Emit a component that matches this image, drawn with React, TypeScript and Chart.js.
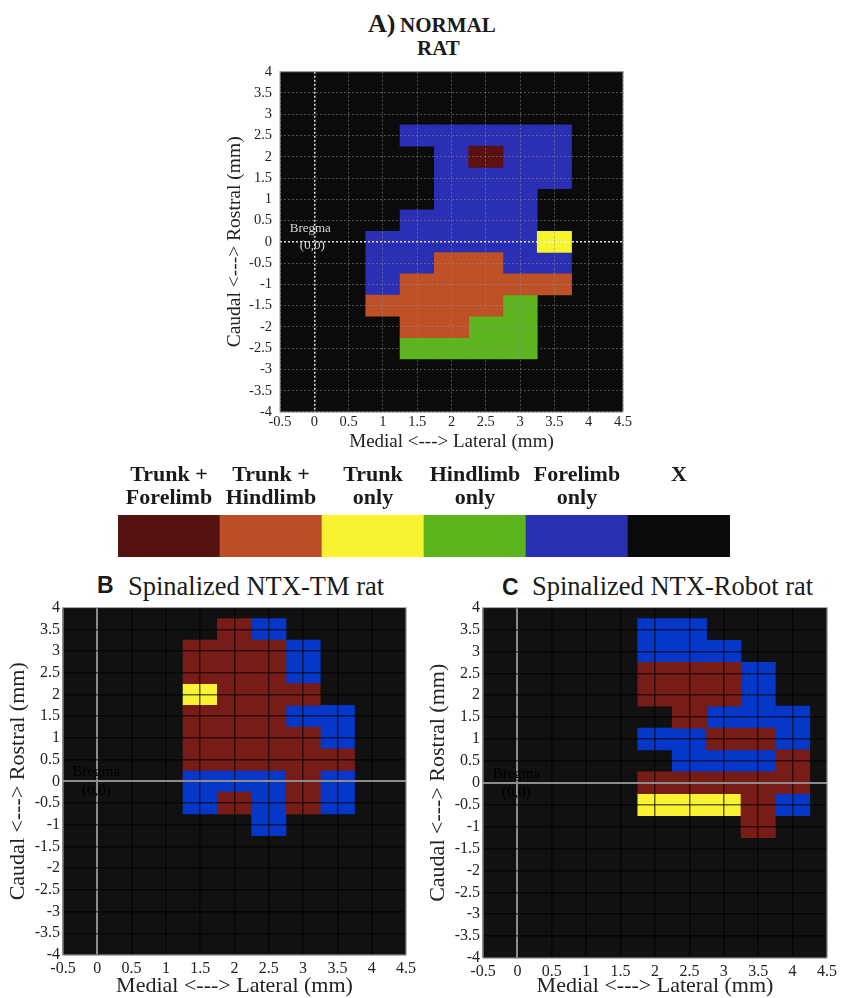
import React, { useEffect, useRef } from 'react';
import { Chart, registerables } from 'chart.js';

Chart.register(...registerables);

// ---------------- data ----------------
// cell codes: R = Trunk + Forelimb, O = Trunk + Hindlimb, Y = Trunk only,
//             G = Hindlimb only, B = Forelimb only, . = X (no response)
const categoryCodes = ['R', 'O', 'Y', 'G', 'B'];

// Panel A – normal rat
const rowsA = [2.5, 2, 1.5, 1, 0.5, 0, -0.5, -1, -1.5, -2, -2.5];
const colsA = [1, 1.5, 2, 2.5, 3, 3.5];
const gridA = [
  '.BBBBB',
  '..BRBB',
  '..BBBB',
  '..BBB.',
  '.BBBB.',
  'BBBBBY',
  'BBOOBB',
  'BOOOOO',
  'OOOOG.',
  '.OOGG.',
  '.GGGG.',
];

// Panel B – spinalized NTX-TM rat
const rowsB = [3.5, 3, 2.5, 2, 1.5, 1, 0.5, 0, -0.5, -1];
const colsB = [1.5, 2, 2.5, 3, 3.5];
const gridB = [
  '.RB..',
  'RRRB.',
  'RRRB.',
  'YRRR.',
  'RRRBB',
  'RRRRB',
  'RRRRR',
  'BBBRB',
  'BRBRB',
  '..B..',
];

// Panel C – spinalized NTX-Robot rat
const rowsC = [3.5, 3, 2.5, 2, 1.5, 1, 0.5, 0, -0.5, -1];
const colsC = [2, 2.5, 3, 3.5, 4];
const gridC = [
  'BB...',
  'BBB..',
  'RRRB.',
  'RRRB.',
  '.RBBB',
  'BBRRB',
  '.BBBR',
  'RRRRR',
  'YYYRB',
  '...R.',
];

const cellHalf = 0.25;
const xMin = -0.5;
const xMax = 4.5;
const yMin = -4;
const yMax = 4;
const tickStep = 0.5;

const legendLabels = [
  ['Trunk +', 'Forelimb'],
  ['Trunk +', 'Hindlimb'],
  ['Trunk', 'only'],
  ['Hindlimb', 'only'],
  ['Forelimb', 'only'],
  ['X', ''],
];
const legendValues = [1, 1, 1, 1, 1, 1];

// ---------------- styles ----------------
const legendColors = ['#541210', '#bb4e27', '#f7f331', '#5db51e', '#2a30b0', '#0a0a0a'];
const paletteA: Record<string, string> = { R: '#5b1111', O: '#bf5128', Y: '#f6f52c', G: '#5db51f', B: '#2a2fb3' };
const paletteBC: Record<string, string> = { R: '#771c16', O: '#bf5128', Y: '#f8f232', G: '#5db51f', B: '#0537c8' };

const SERIF = '"Liberation Serif", "Times New Roman", serif';
const SANS = '"Liberation Sans", Arial, sans-serif';

function cellsFor(rows: number[], cols: number[], grid: string[], code: string) {
  const out: { x: number; y: [number, number] }[] = [];
  grid.forEach((line, r) => {
    line.split('').forEach((ch, c) => {
      if (ch === code) out.push({ x: cols[c], y: [rows[r] - cellHalf, rows[r] + cellHalf] });
    });
  });
  return out;
}

const framePlugin = {
  id: 'frame',
  beforeDraw(chart: any, _a: any, opts: any) {
    const { ctx, chartArea: ca } = chart;
    ctx.save();
    ctx.fillStyle = opts.bg;
    ctx.fillRect(ca.left, ca.top, ca.right - ca.left, ca.bottom - ca.top);
    ctx.restore();
  },
  afterDraw(chart: any, _a: any, opts: any) {
    const { ctx, chartArea: ca } = chart;
    ctx.save();
    ctx.strokeStyle = opts.border;
    ctx.lineWidth = opts.borderWidth;
    ctx.strokeRect(ca.left, ca.top, ca.right - ca.left, ca.bottom - ca.top);
    ctx.restore();
  },
};

const bregmaPlugin = {
  id: 'bregma',
  afterDraw(chart: any, _a: any, opts: any) {
    const { ctx, scales } = chart;
    const px = scales.x.getPixelForValue(0);
    const py = scales.y.getPixelForValue(0);
    ctx.save();
    ctx.font = `${opts.size}px ${SERIF}`;
    ctx.fillStyle = opts.color;
    ctx.textAlign = 'center';
    ctx.textBaseline = 'middle';
    ctx.fillText('Bregma', px + opts.dx1, py + opts.dy1);
    ctx.fillText('(0,0)', px + opts.dx2, py + opts.dy2);
    ctx.restore();
  },
};

type MapStyle = {
  padTop: number;
  padRight: number;
  yWidth: number;
  xHeight: number;
  tickSize: number;
  yTickPad: number;
  xTickPad: number;
  yTitleSize: number;
  xTitleSize: number;
  yTitlePad: number;
  xTitlePad: number;
  bg: string;
  gridColor: string;
  gridWidth: number;
  zeroColor: string;
  zeroWidth: number;
  dash: number[];
  frameColor: string;
  bregma: any;
};

function makeMapConfig(rows: number[], cols: number[], grid: string[], palette: Record<string, string>, s: MapStyle) {
  const datasets = categoryCodes
    .map((code) => ({
      type: 'bar',
      label: code,
      data: cellsFor(rows, cols, grid, code),
      backgroundColor: palette[code],
      borderWidth: 0,
      grouped: false,
      barPercentage: 1,
      categoryPercentage: 1,
    }))
    .filter((d) => d.data.length > 0);

  const gridOpts = {
    color: (ctx: any) => (ctx.tick && ctx.tick.value === 0 ? s.zeroColor : s.gridColor),
    lineWidth: (ctx: any) => (ctx.tick && ctx.tick.value === 0 ? s.zeroWidth : s.gridWidth),
    drawTicks: false,
    offset: false,
    z: 1,
    borderDash: s.dash,
  };

  return {
    type: 'bar',
    data: { datasets },
    plugins: [framePlugin, bregmaPlugin],
    options: {
      animation: false,
      responsive: false,
      maintainAspectRatio: false,
      events: [],
      layout: { padding: { top: s.padTop, right: s.padRight, left: 0, bottom: 0 } },
      plugins: {
        legend: { display: false },
        tooltip: { enabled: false },
        frame: { bg: s.bg, border: s.frameColor, borderWidth: 1 },
        bregma: s.bregma,
      },
      scales: {
        x: {
          type: 'linear',
          min: xMin,
          max: xMax,
          offset: false,
          ticks: {
            stepSize: tickStep,
            autoSkip: false,
            maxRotation: 0,
            padding: s.xTickPad,
            color: '#222',
            font: { family: SERIF, size: s.tickSize },
            callback: (v: any) => String(v),
          },
          grid: gridOpts,
          border: { display: false, dash: s.dash },
          title: {
            display: true,
            text: 'Medial <---> Lateral (mm)',
            color: '#222',
            font: { family: SERIF, size: s.xTitleSize, lineHeight: 1.1 },
            padding: { top: 0, bottom: s.xTitlePad },
          },
          afterFit: (sc: any) => {
            sc.height = s.xHeight;
          },
        },
        y: {
          type: 'linear',
          min: yMin,
          max: yMax,
          ticks: {
            stepSize: tickStep,
            autoSkip: false,
            maxTicksLimit: 40,
            padding: s.yTickPad,
            color: '#222',
            font: { family: SERIF, size: s.tickSize },
            callback: (v: any) => String(v),
          },
          grid: gridOpts,
          border: { display: false, dash: s.dash },
          title: {
            display: true,
            text: 'Caudal <---> Rostral (mm)',
            color: '#222',
            font: { family: SERIF, size: s.yTitleSize, lineHeight: 1.1 },
            padding: { top: s.yTitlePad, bottom: 0 },
          },
          afterFit: (sc: any) => {
            sc.width = s.yWidth;
          },
        },
      },
    },
  };
}

const styleA: MapStyle = {
  padTop: 12,
  padRight: 17,
  yWidth: 80,
  xHeight: 43,
  tickSize: 14.5,
  yTickPad: 8,
  xTickPad: 1,
  yTitleSize: 19.5,
  xTitleSize: 19,
  yTitlePad: 24,
  xTitlePad: 3,
  bg: '#0b0b0b',
  gridColor: 'rgba(140,140,140,0.55)',
  gridWidth: 1,
  zeroColor: 'rgba(235,235,235,0.95)',
  zeroWidth: 1.5,
  dash: [2, 2],
  frameColor: '#9a9a9a',
  bregma: { size: 13, color: '#d8d8d8', dx1: -4, dy1: -13, dx2: -2, dy2: 4 },
};

const styleBC: MapStyle = {
  padTop: 7,
  padRight: 9,
  yWidth: 63,
  xHeight: 43,
  tickSize: 16,
  yTickPad: 3,
  xTickPad: 4,
  yTitleSize: 22,
  xTitleSize: 22,
  yTitlePad: 6,
  xTitlePad: 0,
  bg: '#111111',
  gridColor: 'rgba(0,0,0,0.6)',
  gridWidth: 1.5,
  zeroColor: '#8c8c8c',
  zeroWidth: 2,
  dash: [],
  frameColor: '#b5b5b5',
  bregma: { size: 15, color: '#000000', dx1: -1, dy1: -9, dx2: -1, dy2: 10 },
};

function makeLegendConfig() {
  return {
    type: 'bar',
    data: {
      labels: legendLabels,
      datasets: [
        {
          data: legendValues,
          backgroundColor: legendColors,
          borderWidth: 0,
          barPercentage: 1,
          categoryPercentage: 1,
        },
      ],
    },
    options: {
      animation: false,
      responsive: false,
      maintainAspectRatio: false,
      events: [],
      layout: { padding: { left: 8, right: 10, top: 0, bottom: 3 } },
      plugins: { legend: { display: false }, tooltip: { enabled: false } },
      scales: {
        x: {
          position: 'top',
          grid: { display: false, drawTicks: false },
          border: { display: false },
          ticks: {
            autoSkip: false,
            maxRotation: 0,
            padding: 5,
            color: '#1a1a1a',
            font: { family: SERIF, size: 22, weight: 'bold', lineHeight: 1.05 },
          },
          afterFit: (sc: any) => {
            sc.height = 60;
          },
        },
        y: { display: false, min: 0, max: 1 },
      },
    },
  };
}

function ChartCanvas({ left, top, width, height, config }: any) {
  const ref = useRef<HTMLCanvasElement>(null);
  useEffect(() => {
    const chart = new Chart(ref.current as HTMLCanvasElement, config());
    return () => chart.destroy();
  }, []);
  return (
    <canvas
      ref={ref}
      width={width}
      height={height}
      style={{ position: 'absolute', left, top, width, height, display: 'block' }}
    />
  );
}

function Txt({ left, baseline, size, family, weight, children }: any) {
  return (
    <div
      style={{
        position: 'absolute',
        left,
        top: baseline - size * 0.84,
        fontSize: size,
        lineHeight: 1,
        fontFamily: family,
        fontWeight: weight || 'normal',
        color: '#1a1a1a',
        whiteSpace: 'nowrap',
      }}
    >
      {children}
    </div>
  );
}

export default function App() {
  return (
    <div
      style={{
        position: 'absolute',
        left: 0,
        top: 0,
        width: 841,
        height: 998,
        background: '#ffffff',
        overflow: 'hidden',
        fontFamily: SERIF,
      }}
    >
      <Txt left={368} baseline={33} size={26} family={SERIF} weight="bold">A)</Txt>
      <Txt left={400} baseline={33} size={21} family={SERIF} weight="bold">NORMAL</Txt>
      <Txt left={417} baseline={56} size={21} family={SERIF} weight="bold">RAT</Txt>

      <ChartCanvas
        left={200}
        top={55}
        width={440}
        height={400}
        config={() => makeMapConfig(rowsA, colsA, gridA, paletteA, styleA)}
      />

      <ChartCanvas left={110} top={455} width={630} height={105} config={makeLegendConfig} />

      <Txt left={97} baseline={593} size={23} family={SANS} weight="bold">B</Txt>
      <Txt left={128} baseline={595} size={26.5} family={SERIF}>Spinalized NTX-TM rat</Txt>
      <ChartCanvas
        left={0}
        top={595}
        width={420}
        height={403}
        config={() => makeMapConfig(rowsB, colsB, gridB, paletteBC, styleBC)}
      />

      <Txt left={502} baseline={595} size={23} family={SANS} weight="bold">C</Txt>
      <Txt left={532} baseline={595} size={26.5} family={SERIF}>Spinalized NTX-Robot rat</Txt>
      <ChartCanvas
        left={420}
        top={595}
        width={421}
        height={403}
        config={() => makeMapConfig(rowsC, colsC, gridC, paletteBC, { ...styleBC, padTop: 8, padRight: 8, xHeight: 40 })}
      />
    </div>
  );
}
